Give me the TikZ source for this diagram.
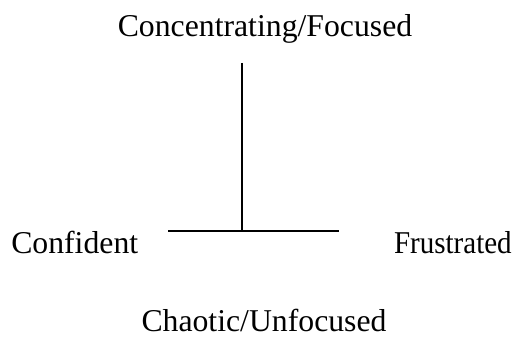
\documentclass[tikz,border=0pt]{standalone}
\usepackage{fontspec}
\setmainfont{Liberation Serif}
\begin{document}
\begin{tikzpicture}[x=0.75pt,y=-0.75pt,
  lbl/.style={inner sep=0pt,font=\fontsize{23.8pt}{28pt}\selectfont},
  ln/.style={line width=1.5pt}]
\useasboundingbox (0,0) rectangle (524,338);
\node[lbl,anchor=base] (top) at (265,37) {Concentrating/Focused};
\node[lbl,anchor=base west] (left) at (11,253) {Confident};
\node[lbl,anchor=base east] (right) at (512,253) {\scalebox{0.915}[1]{Frustrated}};
\node[lbl,anchor=base] (bot) at (264,331) {Chaotic/Unfocused};
\coordinate (vt) at (242,63);
\coordinate (vb) at (242,231);
\coordinate (hl) at (168,231);
\coordinate (hr) at (339,231);
\draw[ln] (vt) -- (vb);
\draw[ln] (hl) -- (hr);
\end{tikzpicture}
\end{document}
